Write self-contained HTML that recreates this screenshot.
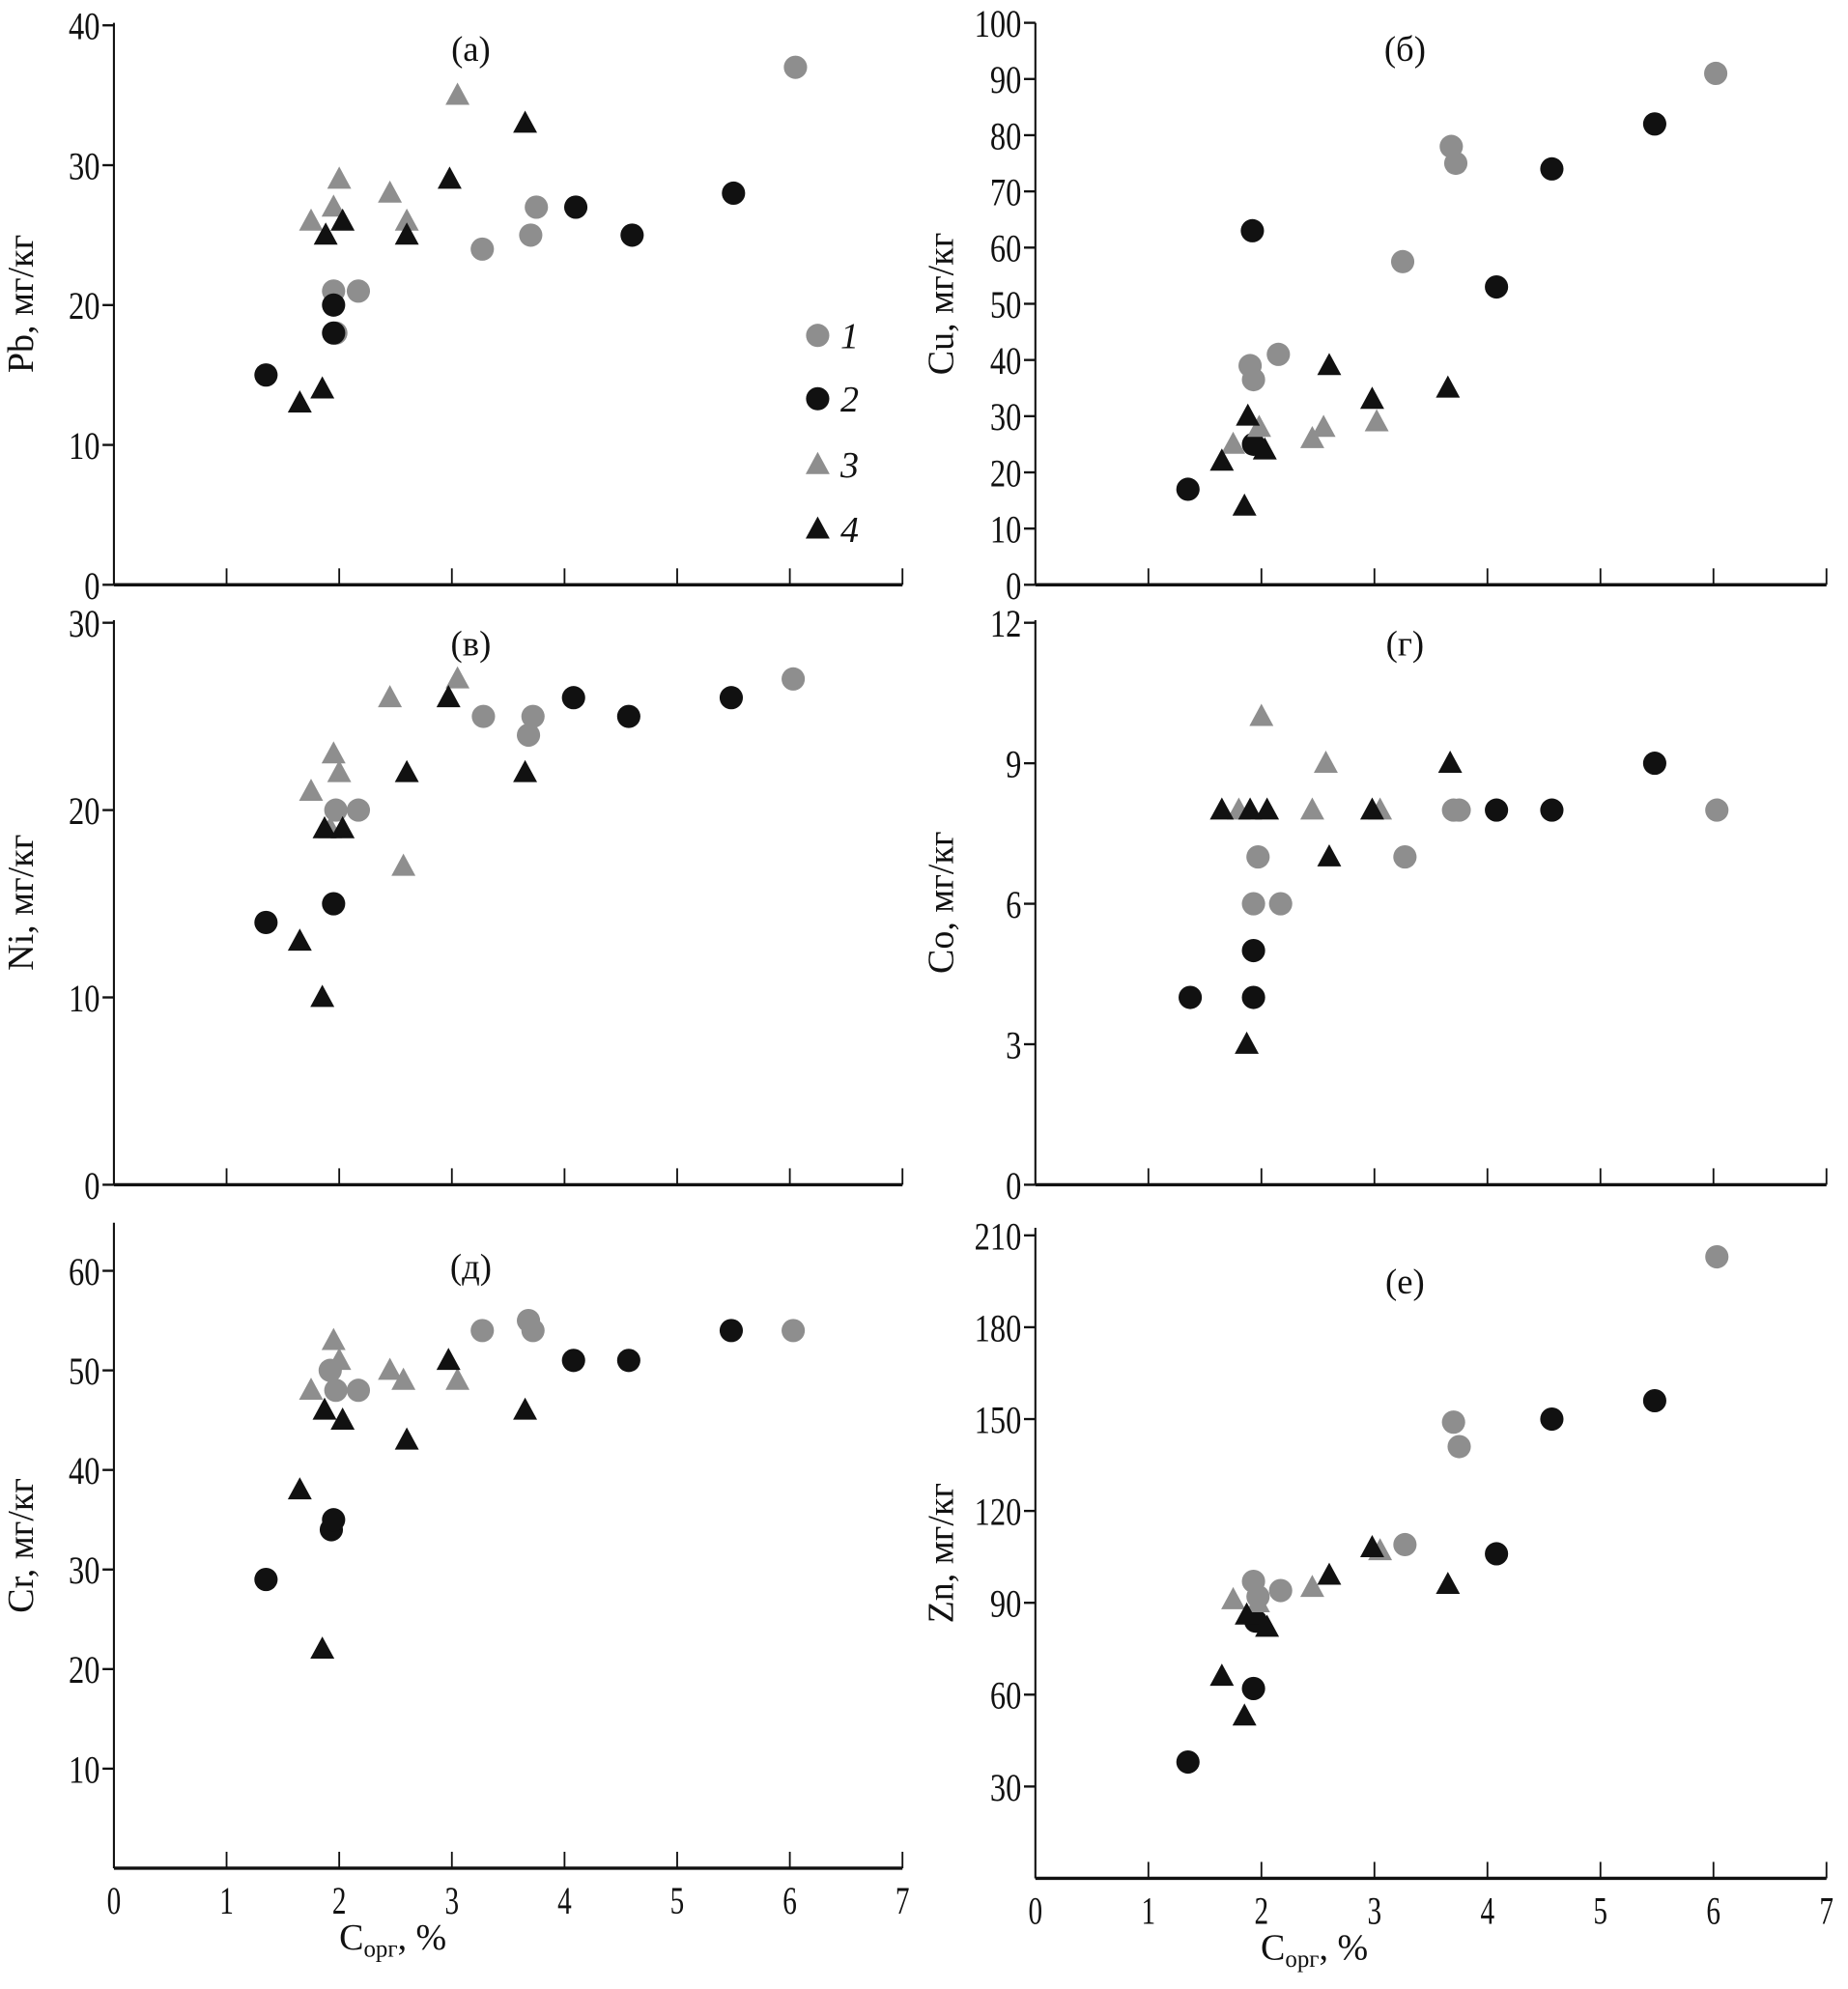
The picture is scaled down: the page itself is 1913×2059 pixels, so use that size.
<!DOCTYPE html>
<html><head><meta charset="utf-8"><style>
html,body{margin:0;padding:0;background:#fff;}
svg{display:block;}
text{font-family:"Liberation Serif",serif;fill:#111;}
</style></head><body>
<svg id="chart" xmlns="http://www.w3.org/2000/svg" width="1913" height="2059" viewBox="0 0 1460 1571.4"></svg>
<script>
const categories = ["1","2","3","4"];
// panel a: Pb
const pbS1 = [[1.95,21],[1.97,18],[2.17,21],[3.27,24],[3.7,25],[3.75,27],[6.05,37]];
const pbS2 = [[1.35,15],[1.95,20],[1.95,18],[4.1,27],[4.6,25],[5.5,28]];
const pbS3 = [[1.75,26],[1.95,27],[2.0,29],[2.45,28],[2.6,26],[3.05,35]];
const pbS4 = [[1.65,13],[1.85,14],[1.88,25],[2.03,26],[2.6,25],[2.98,29],[3.65,33]];
// panel b: Cu
const cuS1 = [[1.9,39],[1.93,36.5],[2.15,41],[3.25,57.5],[3.68,78],[3.72,75],[6.02,91]];
const cuS2 = [[1.35,17],[1.92,63],[1.93,25],[4.08,53],[4.57,74],[5.48,82]];
const cuS3 = [[1.75,25],[1.98,28],[2.45,26],[2.55,28],[3.02,29]];
const cuS4 = [[1.65,22],[1.88,30],[1.85,14],[2.03,24],[2.6,39],[2.98,33],[3.65,35]];
// panel v: Ni
const niS1 = [[1.97,20],[2.17,20],[3.28,25],[3.68,24],[3.72,25],[6.03,27]];
const niS2 = [[1.35,14],[1.95,15],[4.08,26],[4.57,25],[5.48,26]];
const niS3 = [[1.75,21],[1.95,23],[2.0,22],[2.45,26],[2.57,17],[3.05,27],[1.92,19]];
const niS4 = [[1.65,13],[1.85,10],[1.87,19],[2.03,19],[2.6,22],[2.97,26],[3.65,22]];
// panel g: Co
const coS1 = [[1.93,6],[1.97,7],[2.17,6],[3.27,7],[3.7,8],[3.75,8],[6.03,8]];
const coS2 = [[1.37,4],[1.93,5],[1.93,4],[4.08,8],[4.57,8],[5.48,9]];
const coS3 = [[1.8,8],[2.0,10],[2.45,8],[2.57,9],[3.05,8]];
const coS4 = [[1.65,8],[1.87,3],[1.9,8],[2.05,8],[2.6,7],[2.98,8],[3.67,9]];
// panel d: Cr
const crS1 = [[1.92,50],[1.97,48],[2.17,48],[3.27,54],[3.68,55],[3.72,54],[6.03,54]];
const crS2 = [[1.35,29],[1.93,34],[1.95,35],[4.08,51],[4.57,51],[5.48,54]];
const crS3 = [[1.75,48],[1.95,53],[2.0,51],[2.45,50],[2.57,49],[3.05,49]];
const crS4 = [[1.65,38],[1.85,22],[1.87,46],[2.03,45],[2.6,43],[2.97,51],[3.65,46]];
// panel e: Zn
const znS1 = [[1.93,97],[1.97,92],[2.17,94],[3.27,109],[3.7,149],[3.75,141],[6.03,203]];
const znS2 = [[1.35,38],[1.93,62],[1.95,84],[4.08,106],[4.57,150],[5.48,156]];
const znS3 = [[1.75,91],[1.97,90],[2.45,95],[3.05,107]];
const znS4 = [[1.65,66],[1.85,53],[1.87,86],[2.05,82],[2.6,99],[2.98,108],[3.65,96]];
const xTicks = [0,1,2,3,4,5,6,7];
const pbTicks = [0,10,20,30,40];
const cuTicks = [0,10,20,30,40,50,60,70,80,90,100];
const niTicks = [0,10,20,30];
const coTicks = [0,3,6,9,12];
const crTicks = [10,20,30,40,50,60];
const znTicks = [30,60,90,120,150,180,210];

const NS="http://www.w3.org/2000/svg";
const svg=document.getElementById('chart');
function mk(tag,attrs,parent){const e=document.createElementNS(NS,tag);for(const k in attrs)e.setAttribute(k,attrs[k]);(parent||svg).appendChild(e);return e;}
const GRAY="#8e8e8e", BLACK="#111";

function panel(cfg){
  const g=mk('g',{});
  
  
  const sx=v=>cfg.x0+v*(cfg.x7-cfg.x0)/7;
  const sy=v=>cfg.yb+v*(cfg.yvt-cfg.yb)/cfg.yvmax;
  const ya=mk('line',{x1:cfg.x0,y1:cfg.ytop,x2:cfg.x0,y2:cfg.yb,stroke:'#111','stroke-width':1.6},g);
  
  
  const xa=mk('line',{x1:cfg.x0,y1:cfg.yb,x2:cfg.x7,y2:cfg.yb,stroke:'#111','stroke-width':2.6},g);
  
  
  xTicks.forEach(t=>{
    if(t>0){const tk=mk('line',{x1:sx(t),y1:cfg.yb,x2:sx(t),y2:cfg.yb-13,stroke:'#111','stroke-width':1.4},g);
    
    }
    if(cfg.xlabels){const tl=mk('text',{x:sx(t),y:cfg.yb+36,'text-anchor':'middle','font-size':31,transform:`translate(${sx(t)},0) scale(0.72,1) translate(${-sx(t)},0)`},g);tl.textContent=t;
    
    }
  });
  cfg.yticks.forEach(t=>{
    const y=sy(t);
    const tk=mk('line',{x1:cfg.x0-9,y1:y,x2:cfg.x0,y2:y,stroke:'#111','stroke-width':1.8},g);
    
    
    const lx=cfg.x0-11;
    const tl=mk('text',{x:lx,y:y+11,'text-anchor':'end','font-size':31,transform:`translate(${lx},0) scale(0.8,1) translate(${-lx},0)`},g);tl.textContent=t;
    
    
  });
  const yl=mk('text',{x:0,y:0,'text-anchor':'middle','font-size':29,transform:`translate(${cfg.ylx},${(cfg.ytop+cfg.yb)/2}) rotate(-90)`},g);
  yl.textContent=cfg.ylabel;
  
  
  const tt=mk('text',{x:cfg.tx,y:cfg.ty,'text-anchor':'middle','font-size':28},g);tt.textContent=cfg.title;
  
  
  if(cfg.xlabels){
    const xt=mk('text',{x:cfg.x0+178,y:cfg.yb+64,'font-size':29},g);
    xt.innerHTML='C<tspan font-size="19" dy="6">орг</tspan><tspan dy="-6">, %</tspan>';
    
    
  }
  const series=[[cfg.s[0],GRAY,'c'],[cfg.s[1],BLACK,'c'],[cfg.s[2],GRAY,'t'],[cfg.s[3],BLACK,'t']];
  series.forEach(([arr,col,sh],i)=>{
    arr.forEach(p=>{
      const x=sx(p[0]),y=sy(p[1]);let m;
      if(sh==='c'){m=mk('circle',{cx:x,cy:y,r:9.2,fill:col},g);}
      else{m=mk('polygon',{points:`${x},${y-10} ${x-9.5},${y+7.5} ${x+9.5},${y+7.5}`,fill:col},g);}
      
      
    });
  });
}
panel({name:'panel-a-pb',x0:90,x7:713,ytop:18,yb:462,yvmax:40,yvt:20,yticks:pbTicks,ylabel:'Pb, мг/кг',ylx:26,title:'(а)',tx:372,ty:48,xlabels:false,s:[pbS1,pbS2,pbS3,pbS4]});
panel({name:'panel-b-cu',x0:818,x7:1443,ytop:18,yb:462,yvmax:100,yvt:18,yticks:cuTicks,ylabel:'Cu, мг/кг',ylx:753,title:'(б)',tx:1110,ty:48,xlabels:false,s:[cuS1,cuS2,cuS3,cuS4]});
panel({name:'panel-v-ni',x0:90,x7:713,ytop:490,yb:936,yvmax:30,yvt:492,yticks:niTicks,ylabel:'Ni, мг/кг',ylx:26,title:'(в)',tx:372,ty:518,xlabels:false,s:[niS1,niS2,niS3,niS4]});
panel({name:'panel-g-co',x0:818,x7:1443,ytop:490,yb:936,yvmax:12,yvt:492,yticks:coTicks,ylabel:'Co, мг/кг',ylx:753,title:'(г)',tx:1110,ty:518,xlabels:false,s:[coS1,coS2,coS3,coS4]});
panel({name:'panel-d-cr',x0:90,x7:713,ytop:966,yb:1476,yvmax:60,yvt:1004,yticks:crTicks,ylabel:'Cr, мг/кг',ylx:26,title:'(д)',tx:372,ty:1010,xlabels:true,s:[crS1,crS2,crS3,crS4]});
panel({name:'panel-e-zn',x0:818,x7:1443,ytop:970,yb:1484,yvmax:210,yvt:976,yticks:znTicks,ylabel:'Zn, мг/кг',ylx:753,title:'(е)',tx:1110,ty:1022,xlabels:true,s:[znS1,znS2,znS3,znS4]});

const lg=mk('g',{});


const ly=[265,315,367,418];
categories.forEach((c,i)=>{
  const col=(i%2===0)?GRAY:BLACK;let m;
  if(i<2)m=mk('circle',{cx:646,cy:ly[i],r:9.2,fill:col},lg);
  else m=mk('polygon',{points:`646,${ly[i]-10} 636.5,${ly[i]+7.5} 655.5,${ly[i]+7.5}`,fill:col},lg);
  
  
  const t=mk('text',{x:664,y:ly[i]+10,'font-size':29,'font-style':'italic'},lg);t.textContent=c;
  
  
});
</script>
</body></html>
